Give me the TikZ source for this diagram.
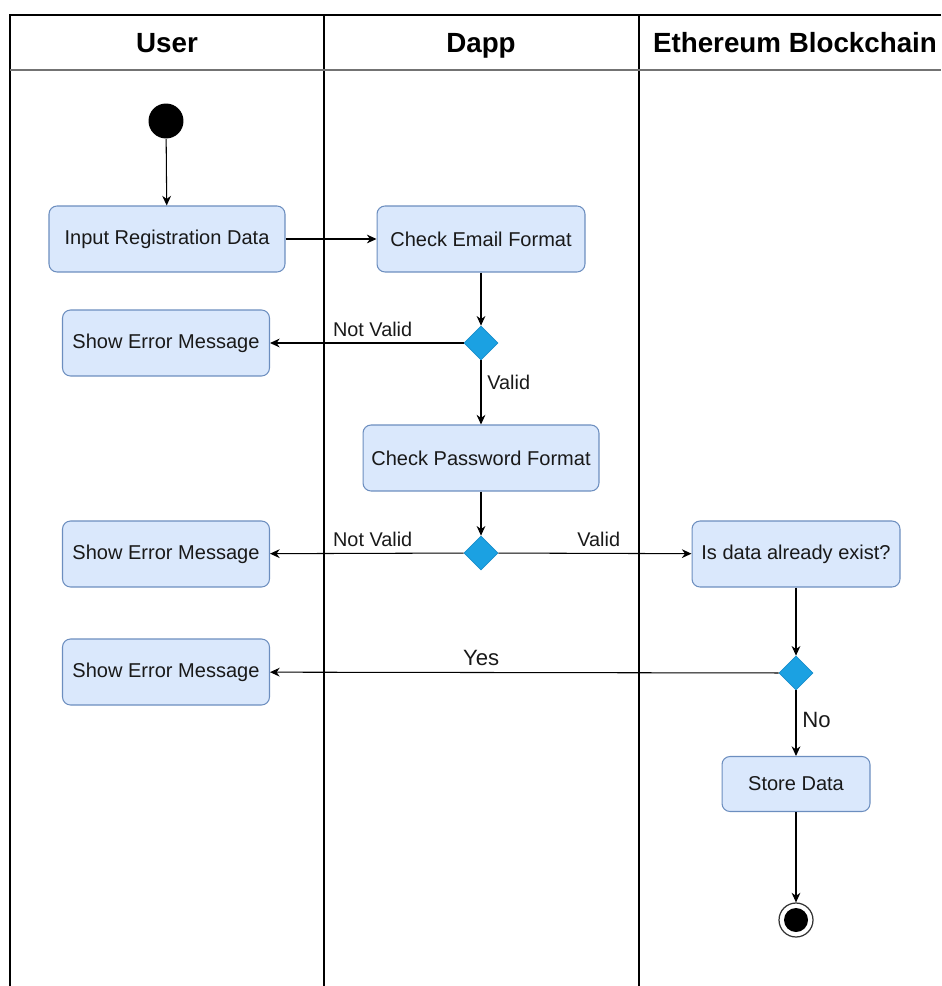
\documentclass[tikz,border=0pt]{standalone}
\usepackage{fontspec}
\setmainfont{Liberation Sans}
\usetikzlibrary{arrows.meta, shapes.geometric}
\definecolor{actfill}{HTML}{DAE8FC}
\definecolor{actline}{HTML}{6C8EBF}
\definecolor{decfill}{HTML}{1BA1E2}
\definecolor{decline}{HTML}{1A8FCB}

\begin{document}
\begin{tikzpicture}[x=0.02cm, y=-0.02cm,
  lane/.style={line width=0.6pt},
  head/.style={anchor=base, font=\fontsize{15.8}{18}\bfseries},
  action/.style={rectangle, rounded corners=0.16cm, draw=actline, fill=actfill, line width=0.6pt,
    minimum height=1.32cm, font=\fontsize{11.4}{13}\selectfont, text=black!90},
  decision/.style={diamond, draw=decline, fill=decfill, line width=0.4pt, inner sep=0pt,
    minimum width=0.68cm, minimum height=0.68cm},
  startstate/.style={circle, fill=black, inner sep=0pt, minimum size=0.7cm},
  endstate/.style={circle, draw=black!80, line width=0.7pt, inner sep=0pt, minimum size=0.68cm,
    path picture={\fill (path picture bounding box.center) circle (0.24cm);}},
  flow/.style={->, >={Stealth[length=5.5pt,width=5pt]}, line width=0.6pt},
  lbl/.style={font=\fontsize{11.3}{13}\selectfont, text=black!90},
  big/.style={font=\fontsize{12.6}{14}\selectfont, text=black!90}]
\useasboundingbox (0,0) rectangle (941,986);

% swimlanes
\draw[lane] (941,15) -- (10,15) -- (10,986);
\draw[lane] (324,15) -- (324,986);
\draw[lane] (639,15) -- (639,986);
\draw[line width=1.2pt, black!55] (10,70) -- (941,70);
\node[head] (hUser) at (167,53) {User};
\node[head] (hDapp) at (481,53) {Dapp};
\node[head] (hChain) at (795,53) {Ethereum Blockchain};

% states
\node[startstate] (start) at (166,121) {};
\node[action, minimum width=4.72cm] (input) at (167,239) {Input Registration Data};
\node[action, minimum width=4.16cm] (email) at (481,239) {Check Email Format};
\node[decision] (d1) at (481,343) {};
\node[action, minimum width=4.14cm] (err1) at (166,343) {Show Error Message};
\node[action, minimum width=4.72cm] (pwd) at (481,458) {Check Password Format};
\node[decision] (d2) at (481,553) {};
\node[action, minimum width=4.14cm] (err2) at (166,554) {Show Error Message};
\node[action, minimum width=4.16cm] (exist) at (796,554) {Is data already exist?};
\node[decision] (d3) at (796,673) {};
\node[action, minimum width=4.14cm] (err3) at (166,672) {Show Error Message};
\node[action, minimum width=2.96cm, minimum height=1.1cm] (store) at (796,784) {Store Data};
\node[endstate] (end) at (796,920) {};

% transitions
\draw[flow] (start) -- (input);
\draw[flow] (input) -- (email);
\draw[flow] (email) -- (d1);
\draw[flow] (d1) -- (err1) node[lbl, pos=0.47, above] {Not Valid};
\draw[flow] (d1) -- (pwd) node[lbl, pos=0.35, right] {Valid};
\draw[flow] (pwd) -- (d2);
\draw[flow] (d2) -- (err2) node[lbl, pos=0.47, above] {Not Valid};
\draw[flow] (d2) -- (exist) node[lbl, pos=0.52, above] {Valid};
\draw[flow] (exist) -- (d3);
\draw[flow] (d3) -- (err3) node[big, pos=0.585, above] {Yes};
\draw[flow] (d3) -- (store) node[big, pos=0.45, right] {No};
\draw[flow] (store) -- (end);
\end{tikzpicture}
\end{document}
